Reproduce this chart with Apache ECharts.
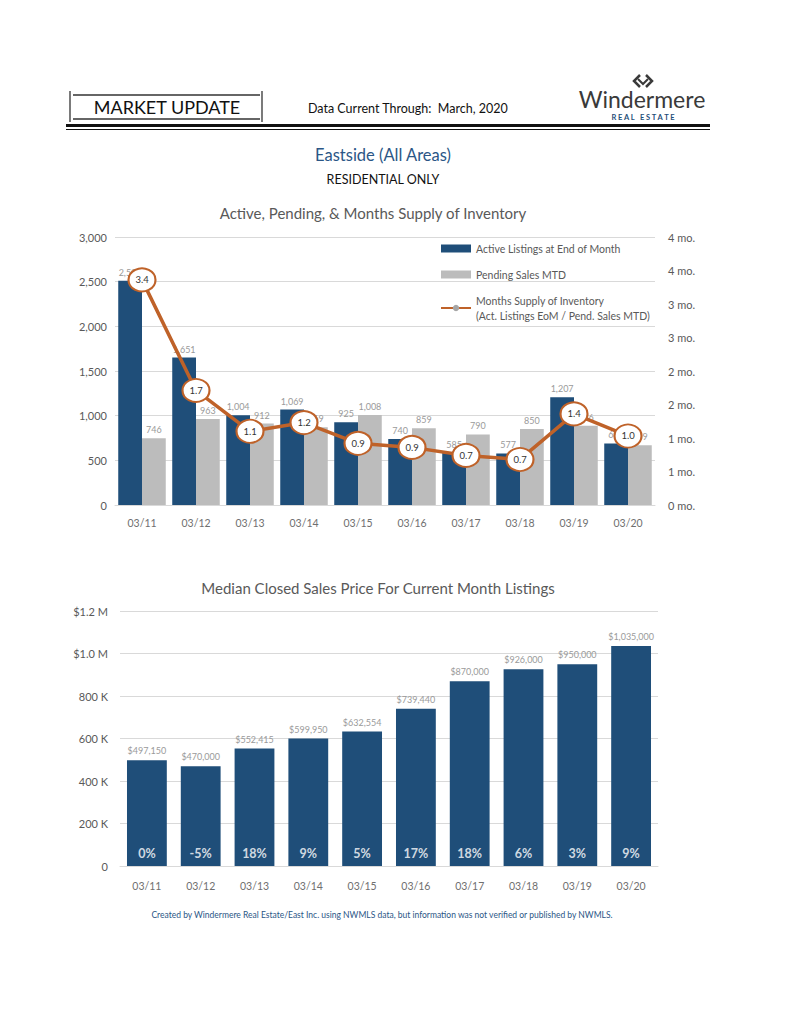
<!DOCTYPE html>
<html>
<head>
<meta charset="utf-8">
<script src="https://cdn.jsdelivr.net/npm/echarts@6/dist/echarts.min.js"></script>
<style>
html,body{margin:0;padding:0;background:#fff;}
#c{width:791px;height:1024px;}
</style>
</head>
<body>
<div id="c"></div>
<script>
// ---- data ----
var months = ['03/11','03/12','03/13','03/14','03/15','03/16','03/17','03/18','03/19','03/20'];
var activeListings = [2509, 1651, 1004, 1069, 925, 740, 585, 577, 1207, 689];
var pendingSales = [746, 963, 912, 869, 1008, 859, 790, 850, 886, 669];
var monthsSupply = [3.36, 1.71, 1.10, 1.23, 0.92, 0.86, 0.74, 0.68, 1.36, 1.03];
var medianPrice = [497150, 470000, 552415, 599950, 632554, 739440, 870000, 926000, 950000, 1035000];
var pctChange = ['0%', '-5%', '18%', '9%', '5%', '17%', '18%', '6%', '3%', '9%'];
var leftTicks = [0, 500, 1000, 1500, 2000, 2500, 3000];
var priceTicks = {0:'0', 200000:'200 K', 400000:'400 K', 600000:'600 K', 800000:'800 K', 1000000:'$1.0 M', 1200000:'$1.2 M'};

function commas(n){ return String(n).replace(/\B(?=(\d{3})+(?!\d))/g, ','); }

var FONT = 'Lato, "Open Sans", sans-serif';
var BLUE = '#1f4e79';
var GRAY = '#bcbcbc';
var BROWN = '#bf6229';
var LBL = '#9a9a9a';
var AX = '#6f6f6f';

var chart = echarts.init(document.getElementById('c'), null, {renderer: 'svg'});

var option = {
  backgroundColor: '#ffffff',
  textStyle: {fontFamily: FONT},
  animation: false,
  grid: [
    {left: 115, top: 237, width: 540, height: 268},
    {left: 120, top: 611, width: 538, height: 255}
  ],
  legend: {
    left: 435, top: 236, orient: 'vertical', itemGap: 11,
    itemWidth: 30, itemHeight: 8,
    textStyle: {color: '#595959', fontSize: 10.5, fontFamily: FONT, lineHeight: 15},
    data: [
      {name: 'Active Listings at End of Month', icon: 'rect'},
      {name: 'Pending Sales MTD', icon: 'rect'},
      {name: 'Months Supply of Inventory', itemStyle: {color: '#a6a6a6', borderWidth: 0}}
    ],
    formatter: function(n){
      return n === 'Months Supply of Inventory' ? n + '\n(Act. Listings EoM / Pend. Sales MTD)' : n;
    }
  },
  xAxis: [
    {type: 'category', gridIndex: 0, data: months,
     axisLine: {lineStyle: {color: '#d9d9d9'}}, axisTick: {show: false},
     axisLabel: {color: AX, fontSize: 10.5, margin: 12, fontFamily: FONT}},
    {type: 'category', gridIndex: 1, data: months,
     axisLine: {lineStyle: {color: '#d9d9d9'}}, axisTick: {show: false},
     axisLabel: {color: AX, fontSize: 10.5, margin: 14, fontFamily: FONT}}
  ],
  yAxis: [
    {type: 'value', gridIndex: 0, min: leftTicks[0], max: leftTicks[leftTicks.length-1], interval: 500,
     axisLine: {show: false}, axisTick: {show: false},
     splitLine: {lineStyle: {color: '#d9d9d9'}},
     axisLabel: {color: '#595959', fontSize: 11, margin: 8, fontFamily: FONT, formatter: function(v){ return commas(v); }}},
    {type: 'value', gridIndex: 0, position: 'right', min: 0, max: 4, interval: 0.5,
     axisLine: {show: false}, axisTick: {show: false}, splitLine: {show: false},
     axisLabel: {color: '#595959', fontSize: 11, margin: 13, fontFamily: FONT, formatter: function(v){ return Math.round(v) + ' mo.'; }}},
    {type: 'value', gridIndex: 1, min: 0, max: 1200000, interval: 200000,
     axisLine: {show: false}, axisTick: {show: false},
     splitLine: {lineStyle: {color: '#d9d9d9'}},
     axisLabel: {color: '#595959', fontSize: 11, margin: 12, fontFamily: FONT, formatter: function(v){ return priceTicks[v]; }}}
  ],
  series: [
    {name: 'Active Listings at End of Month', type: 'bar', xAxisIndex: 0, yAxisIndex: 0,
     data: activeListings, barGap: '0%', barCategoryGap: '12%',
     itemStyle: {color: BLUE},
     label: {show: true, position: 'top', distance: 4, color: LBL, fontSize: 9, fontFamily: FONT,
             formatter: function(p){ return commas(p.value); }}},
    {name: 'Pending Sales MTD', type: 'bar', xAxisIndex: 0, yAxisIndex: 0,
     data: pendingSales, barGap: '0%', barCategoryGap: '12%',
     itemStyle: {color: GRAY},
     label: {show: true, position: 'top', distance: 4, color: LBL, fontSize: 9, fontFamily: FONT,
             formatter: function(p){ return commas(p.value); }}},
    {name: 'Months Supply of Inventory', type: 'line', xAxisIndex: 0, yAxisIndex: 1,
     data: monthsSupply, z: 5,
     lineStyle: {color: BROWN, width: 3.5},
     symbol: 'circle', symbolSize: [27, 23],
     itemStyle: {color: '#ffffff', borderColor: BROWN, borderWidth: 2},
     label: {show: true, position: 'inside', color: '#333', fontSize: 9.5, fontFamily: FONT,
             formatter: function(p){ return p.value.toFixed(1); }}},
    {name: 'Median Closed Sales Price', type: 'bar', xAxisIndex: 1, yAxisIndex: 2,
     data: medianPrice, barCategoryGap: '26%',
     itemStyle: {color: BLUE},
     label: {show: true, position: 'top', distance: 5, color: LBL, fontSize: 9, fontFamily: FONT,
             formatter: function(p){ return '$' + commas(p.value); }}},
    {name: 'Change', type: 'scatter', xAxisIndex: 1, yAxisIndex: 2,
     data: months.map(function(m, i){ return [i, 0]; }), symbolSize: 0, z: 5,
     label: {show: true, position: 'top', distance: 6, color: '#ffffff', fontSize: 12.5, fontWeight: 'bold', fontFamily: FONT,
             formatter: function(p){ return pctChange[p.dataIndex]; }}}
  ],
  graphic: [
    // header box
    {type: 'line', shape: {x1: 70, y1: 91, x2: 70, y2: 122}, style: {stroke: '#333', lineWidth: 1.3}},
    {type: 'line', shape: {x1: 262, y1: 91, x2: 262, y2: 122}, style: {stroke: '#333', lineWidth: 1.3}},
    {type: 'line', shape: {x1: 73, y1: 95, x2: 260, y2: 95}, style: {stroke: '#333', lineWidth: 1.3}},
    {type: 'line', shape: {x1: 73, y1: 119, x2: 260, y2: 119}, style: {stroke: '#333', lineWidth: 1.3}},
    {type: 'text', x: 167, y: 107, style: {text: 'MARKET UPDATE', fill: '#111', fontSize: 18, fontFamily: FONT, textAlign: 'center', textVerticalAlign: 'middle'}},
    {type: 'text', x: 308, y: 108, style: {text: 'Data Current Through:  March, 2020', fill: '#111', fontSize: 12.5, fontFamily: FONT, textAlign: 'left', textVerticalAlign: 'middle'}},
    // logo
    {type: 'polyline', shape: {points: [[640, 75], [634, 81], [640, 87]]}, style: {stroke: '#3a3a3a', lineWidth: 2.5, fill: null}},
    {type: 'polyline', shape: {points: [[646, 75], [652, 81], [646, 87]]}, style: {stroke: '#3a3a3a', lineWidth: 2.5, fill: null}},
    {type: 'polyline', shape: {points: [[638, 79], [643, 84], [648, 79]]}, style: {stroke: '#3a3a3a', lineWidth: 2, fill: null}},
    {type: 'text', x: 642, y: 99, style: {text: 'Windermere', fill: '#3a3a3a', fontSize: 23, fontFamily: FONT, textAlign: 'center', textVerticalAlign: 'middle'}},
    {type: 'text', x: 643, y: 117, style: {text: 'R E A L   E S T A T E', fill: BLUE, fontSize: 7.5, fontWeight: 'bold', fontFamily: FONT, textAlign: 'center', textVerticalAlign: 'middle'}},
    // double rule
    {type: 'line', shape: {x1: 66, y1: 125.5, x2: 710, y2: 125.5}, style: {stroke: '#111', lineWidth: 3}},
    {type: 'line', shape: {x1: 66, y1: 129.5, x2: 710, y2: 129.5}, style: {stroke: '#111', lineWidth: 1}},
    // titles
    {type: 'text', x: 383, y: 155, style: {text: 'Eastside (All Areas)', fill: '#2b5686', fontSize: 16.5, fontFamily: FONT, textAlign: 'center', textVerticalAlign: 'middle'}},
    {type: 'text', x: 383, y: 179, style: {text: 'RESIDENTIAL ONLY', fill: '#111', fontSize: 12.5, fontFamily: FONT, textAlign: 'center', textVerticalAlign: 'middle'}},
    {type: 'text', x: 373, y: 213, style: {text: 'Active, Pending, & Months Supply of Inventory', fill: '#595959', fontSize: 15, fontFamily: FONT, textAlign: 'center', textVerticalAlign: 'middle'}},
    {type: 'text', x: 378, y: 588, style: {text: 'Median Closed Sales Price For Current Month Listings', fill: '#595959', fontSize: 15, fontFamily: FONT, textAlign: 'center', textVerticalAlign: 'middle'}},
    {type: 'text', x: 382, y: 915, style: {text: 'Created by Windermere Real Estate/East Inc. using NWMLS data, but information was not verified or published by NWMLS.', fill: '#2b5686', fontSize: 8.5, fontFamily: FONT, textAlign: 'center', textVerticalAlign: 'middle'}}
  ]
};
chart.setOption(option);
</script>
</body>
</html>
